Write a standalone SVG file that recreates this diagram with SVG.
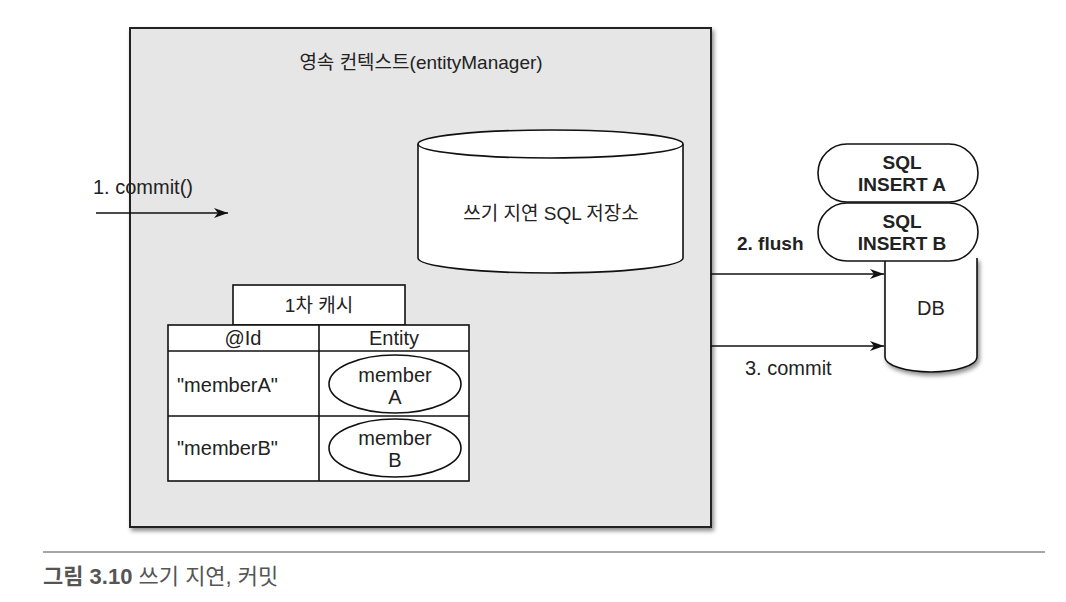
<svg xmlns="http://www.w3.org/2000/svg" width="1066" height="602" viewBox="0 0 1066 602">
<style>
text{font-family:"Liberation Sans","Noto Sans CJK KR",sans-serif;fill:#222;}
.t{font-size:19px;}
.l{font-size:20px;}
.b{font-size:19px;font-weight:bold;}
.shape{fill:#fff;stroke:#111;stroke-width:1.6;}
.conn{stroke:#111;stroke-width:1.6;fill:none;}
</style>
<defs>
<filter id="sh" x="-5%" y="-5%" width="115%" height="115%">
<feDropShadow dx="2" dy="3" stdDeviation="2" flood-color="#000" flood-opacity="0.45"/>
</filter>
<marker id="arr" viewBox="0 0 14 10" refX="14" refY="5" markerWidth="14" markerHeight="10" markerUnits="userSpaceOnUse" orient="auto">
<path d="M0,0 L14,5 L0,10 L4,5 Z" fill="#111"/>
</marker>
</defs>
<rect width="1066" height="602" fill="#fff"/>
<g id="context">
<rect x="130" y="28" width="581" height="499" fill="#e6e6e6" stroke="#222" stroke-width="2" filter="url(#sh)"/>
<text class="t" x="421" y="69" text-anchor="middle">영속 컨텍스트(entityManager)</text>
</g>
<g id="sqlstore">
<path class="shape" d="M418,144 L418,258 A132.5,15 0 0 0 683,258 L683,144"/>
<ellipse class="shape" cx="550.5" cy="144" rx="132.5" ry="14"/>
<text class="t" x="551" y="220" text-anchor="middle">쓰기 지연 SQL 저장소</text>
</g>
<g id="cache">
<rect class="shape" x="233" y="285" width="172" height="40"/>
<text class="t" x="319" y="312" text-anchor="middle">1차 캐시</text>
<rect class="shape" x="168" y="325" width="301" height="156"/>
<line class="conn" x1="319" y1="325" x2="319" y2="481"/>
<line class="conn" x1="168" y1="351" x2="469" y2="351"/>
<line class="conn" x1="168" y1="416" x2="469" y2="416"/>
<text class="l" x="243" y="345" text-anchor="middle">@Id</text>
<text class="l" x="394" y="345" text-anchor="middle">Entity</text>
<text class="l" x="177" y="392">"memberA"</text>
<text class="l" x="177" y="455">"memberB"</text>
</g>
<g id="memberA">
<ellipse class="shape" cx="395" cy="384" rx="66" ry="29"/>
<text class="l" x="395" y="382" text-anchor="middle">member</text>
<text class="l" x="395" y="404" text-anchor="middle">A</text>
</g>
<g id="memberB">
<ellipse class="shape" cx="395" cy="448" rx="66" ry="29"/>
<text class="l" x="395" y="445" text-anchor="middle">member</text>
<text class="l" x="395" y="467" text-anchor="middle">B</text>
</g>
<g id="db">
<path class="shape" d="M885,258 L885,357 A46,15 0 0 0 977,357 L977,258" filter="url(#sh)"/>
<text class="l" x="931" y="315" text-anchor="middle">DB</text>
</g>
<g id="insertB">
<rect class="shape" x="818" y="203" width="160" height="58" rx="29" ry="29"/>
<text class="b" x="902" y="228" text-anchor="middle">SQL</text>
<text class="b" x="902" y="250" text-anchor="middle">INSERT B</text>
</g>
<g id="insertA">
<rect class="shape" x="818" y="144" width="160" height="58" rx="29" ry="29"/>
<text class="b" x="902" y="169" text-anchor="middle">SQL</text>
<text class="b" x="902" y="191" text-anchor="middle">INSERT A</text>
</g>
<g id="connectors">
<line class="conn" x1="96" y1="213" x2="228" y2="213" marker-end="url(#arr)"/>
<line class="conn" x1="711" y1="274" x2="884" y2="274" marker-end="url(#arr)"/>
<line class="conn" x1="711" y1="346" x2="884" y2="346" marker-end="url(#arr)"/>
<text class="l" x="93" y="194">1. commit()</text>
<text class="b" x="737" y="250">2. flush</text>
<text class="l" x="745" y="375">3. commit</text>
</g>
<g id="caption">
<line x1="43" y1="552" x2="1045" y2="552" stroke="#888" stroke-width="1.5"/>
<text x="43" y="584" style="font-size:22px;fill:#555;"><tspan font-weight="bold">그림 3.10</tspan> 쓰기 지연, 커밋</text>
</g>
</svg>
